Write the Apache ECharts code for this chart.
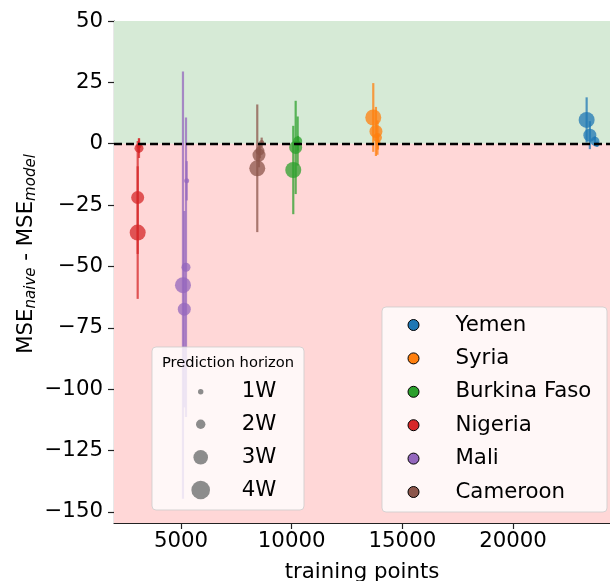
<!DOCTYPE html>
<html><head><meta charset="utf-8">
<script src="https://cdn.jsdelivr.net/npm/echarts@6/dist/echarts.min.js"></script>
<style>html,body{margin:0;padding:0;background:#fff}#c{width:610px;height:581px}</style>
</head><body><div id="c"></div>
<script>
// ---- data (order of each array: 1W, 2W, 3W, 4W) ----
const countries = ['Yemen', 'Syria', 'Burkina Faso', 'Nigeria', 'Mali', 'Cameroon'];
const horizons = ['1W', '2W', '3W', '4W'];

const yemenX = [23790, 23700, 23470, 23325];
const yemenY = [-0.2, 1.0, 3.5, 9.7];
const yemenErr = [1, 2, 5.7, 9.2];

const syriaX = [13898, 13875, 13807, 13686];
const syriaY = [0.6, 2.5, 5.0, 10.7];
const syriaErr = [3, 7, 10, 14];

const burkinaX = [10285, 10271, 10181, 10072];
const burkinaY = [0.2, 1.1, -1.5, -10.7];
const burkinaErr = [3, 10, 19, 18];

const nigeriaX = [3103, 3103, 3044, 3044];
const nigeriaY = [-0.8, -1.8, -21.9, -36.2];
const nigeriaErr = [3, 4, 23, 27];

const maliX = [5257, 5226, 5149, 5090];
const maliY = [-15.1, -50.3, -67.4, -57.6];
const maliErr = [8, 61, 40, 87];

const cameroonX = [8645, 8568, 8523, 8446];
const cameroonY = [0.5, -2.9, -4.6, -10.0];
const cameroonErr = [2, 3, 5, 26];

const xTicks = [5000, 10000, 15000, 20000];
const yTicks = [-150, -125, -100, -75, -50, -25, 0, 25, 50];

// ---- style ----
const colors = ['#1f77b4', '#ff7f0e', '#2ca02c', '#d62728', '#9467bd', '#8c564b'];
const plotSizes = [5, 9, 13, 16];
const legendRadii = [2.7, 4.7, 7.3, 9.3];
const FONT = 'DejaVu Sans';

const allX = [yemenX, syriaX, burkinaX, nigeriaX, maliX, cameroonX];
const allY = [yemenY, syriaY, burkinaY, nigeriaY, maliY, cameroonY];
const allE = [yemenErr, syriaErr, burkinaErr, nigeriaErr, maliErr, cameroonErr];

const series = [];
series.push({
  type: 'line', data: [], z: 0, silent: true,
  markArea: {
    silent: true,
    data: [
      [{ yAxis: 0, itemStyle: { color: '#d6ead6' } }, { yAxis: 50 }],
      [{ yAxis: -154.5, itemStyle: { color: '#ffd7d7' } }, { yAxis: 0 }]
    ]
  }
});
series.push({
  type: 'line', data: [], z: 2, silent: true,
  markLine: {
    silent: true, symbol: 'none', label: { show: false },
    lineStyle: { color: '#000', width: 2.4, type: [8, 4], opacity: 1 },
    data: [{ yAxis: 0 }]
  }
});

countries.forEach((c, ci) => {
  const errData = allX[ci].map((x, i) => [x, allY[ci][i] - allE[ci][i], allY[ci][i] + allE[ci][i]]);
  series.push({
    type: 'custom', z: 3, silent: true, clip: true,
    renderItem: (params, api) => {
      const p1 = api.coord([api.value(0), api.value(1)]);
      const p2 = api.coord([api.value(0), api.value(2)]);
      return {
        type: 'line',
        shape: { x1: p1[0], y1: p1[1], x2: p2[0], y2: p2[1] },
        style: { stroke: colors[ci], lineWidth: 2.2, opacity: 0.75 }
      };
    },
    encode: { x: 0, y: [1, 2] },
    data: errData
  });
  const pts = allX[ci].map((x, i) => [x, allY[ci][i], i]);
  series.push({
    name: c, type: 'scatter', z: 4,
    symbol: 'circle',
    symbolSize: v => plotSizes[v[2]],
    itemStyle: { color: colors[ci], opacity: 0.75 },
    data: pts
  });
});

const gfx = [];
gfx.push({ type: 'rect', z: 50, shape: { x: 152, y: 347, width: 152, height: 163, r: 4 },
  style: { fill: 'rgba(255,255,255,0.8)', stroke: 'rgba(204,204,204,0.8)', lineWidth: 1 } });
gfx.push({ type: 'text', z: 51, x: 228, y: 363,
  style: { text: 'Prediction horizon', font: '14.7px "DejaVu Sans"', fill: '#000', align: 'center', verticalAlign: 'middle' } });
const rowY = [391.7, 424.3, 457.3, 490];
horizons.forEach((h, i) => {
  gfx.push({ type: 'circle', z: 51, shape: { cx: 200.7, cy: rowY[i], r: legendRadii[i] },
    style: { fill: 'rgba(128,128,128,0.9)' } });
  gfx.push({ type: 'text', z: 51, x: 241.7, y: rowY[i],
    style: { text: h, font: '21.3px "DejaVu Sans"', fill: '#000', align: 'left', verticalAlign: 'middle' } });
});
gfx.push({ type: 'rect', z: 50, shape: { x: 382, y: 307, width: 225, height: 205, r: 4 },
  style: { fill: 'rgba(255,255,255,0.8)', stroke: 'rgba(204,204,204,0.8)', lineWidth: 1 } });
gfx.push({ type: 'text', z: 51, x: 26, y: 254, rotation: Math.PI / 2,
  style: {
    text: 'MSE{sub|naive} - MSE{sub|model}',
    font: '21.3px "DejaVu Sans"', fill: '#000', align: 'center', verticalAlign: 'middle',
    rich: {
      sub: { fontSize: 15, fontStyle: 'italic', fontFamily: FONT, fill: '#000', verticalAlign: 'bottom', padding: [10, 0, 0, 0] }
    }
  } });

const minus = v => String(v).replace('-', '\u2212');

const option = {
  animation: false,
  textStyle: { fontFamily: FONT },
  grid: { left: 114, top: 21, right: 0, bottom: 58, containLabel: false, outerBoundsMode: 'none' },
  xAxis: [{
    type: 'value', min: 1974, max: 24380, position: 'bottom',
    splitLine: { show: false },
    axisLine: { show: true, onZero: false, lineStyle: { color: '#222', width: 1.2 } },
    axisTick: { show: true, length: 6, customValues: xTicks, lineStyle: { color: '#222', width: 1.2 } },
    axisLabel: { customValues: xTicks, margin: 8, fontSize: 21.3, color: '#000', fontFamily: FONT, formatter: v => String(v) },
    name: 'training points', nameLocation: 'middle', nameGap: 39,
    nameTextStyle: { fontSize: 21.3, color: '#000', fontFamily: FONT }
  }, {
    type: 'value', min: 1974, max: 24380, position: 'top',
    splitLine: { show: false },
    axisLine: { show: true, onZero: false, lineStyle: { color: '#222', width: 1.2 } },
    axisTick: { show: false }, axisLabel: { show: false }
  }],
  yAxis: {
    type: 'value', min: -154.5, max: 50,
    splitLine: { show: false },
    axisLine: { show: true, onZero: false, lineStyle: { color: '#222', width: 1.2 } },
    axisTick: { show: true, length: 6, customValues: yTicks, lineStyle: { color: '#222', width: 1.2 } },
    axisLabel: { customValues: yTicks, margin: 11, fontSize: 21.3, color: '#000', fontFamily: FONT, formatter: minus }
  },
  legend: {
    z: 60,
    orient: 'vertical', left: 407.5, top: 314, padding: 0,
    itemWidth: 11, itemHeight: 11, itemGap: 11.4, itemTextGap: 5,
    textStyle: { fontSize: 21.3, color: '#000', fontFamily: FONT, lineHeight: 22, padding: [0, 0, 0, 31.5] },
    data: countries.map((c, i) => ({
      name: c, icon: 'circle',
      itemStyle: { color: colors[i], opacity: 1, borderColor: '#000', borderWidth: 1 }
    })),
    selectedMode: false
  },
  graphic: gfx,
  series: series
};

const chart = echarts.init(document.getElementById('c'), null, { renderer: 'canvas' });
chart.setOption(option);
</script>
</body></html>
